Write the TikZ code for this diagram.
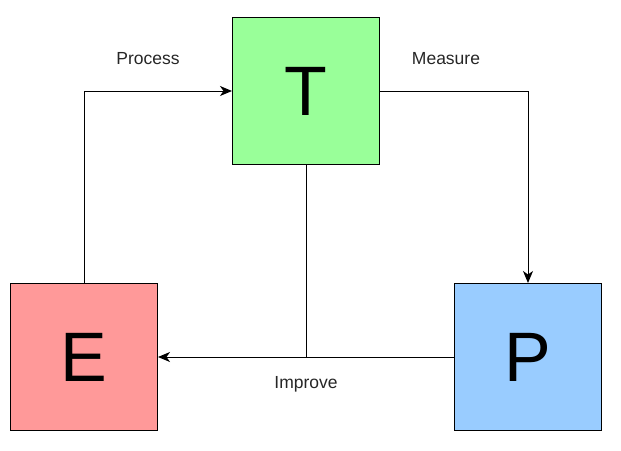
\documentclass[tikz,border=0pt]{standalone}
\usepackage{fontspec}
\setmainfont{Liberation Sans}
\usepackage{xcolor}
\usetikzlibrary{positioning}
\usetikzlibrary{arrows.meta}
\definecolor{tgreen}{HTML}{99FF99}
\definecolor{ered}{HTML}{FF9999}
\definecolor{pblue}{HTML}{99CCFF}
\tikzset{box/.style={draw,line width=1pt,minimum size=147pt,inner sep=0pt,font=\fontsize{70}{76}\selectfont}}
\tikzset{lbl/.style={font=\fontsize{17.5}{20}\selectfont,text=black!85}}
\tikzset{ma/.style={-{Stealth[length=12pt,width=10pt,inset=3.5pt]},line width=1pt}}

\begin{document}
\begin{tikzpicture}[x=1pt,y=-1pt]
\useasboundingbox (0,0) rectangle (621,450);
\node [box, fill=tgreen] (T) at (306,91) {T};
\node [box, fill=ered, below left=118pt and 74pt of T] (E) {E};
\node [box, fill=pblue, below right=118pt and 74pt of T] (P) {P};

\coordinate (mid) at (T.south |- E.east);

\draw[ma] (E.north) |- (T.west);
\draw[ma] (T.east) -| (P.north);
\draw[ma] (P.west) -- (E.east);
\draw[line width=1pt] (T.south) -- (mid);

\node [lbl] (lp) at (148,59) {Process};
\node [lbl] (lm) at (446,59) {Measure};
\node [lbl] (li) at (306,384) {Improve};
\end{tikzpicture}
\end{document}
